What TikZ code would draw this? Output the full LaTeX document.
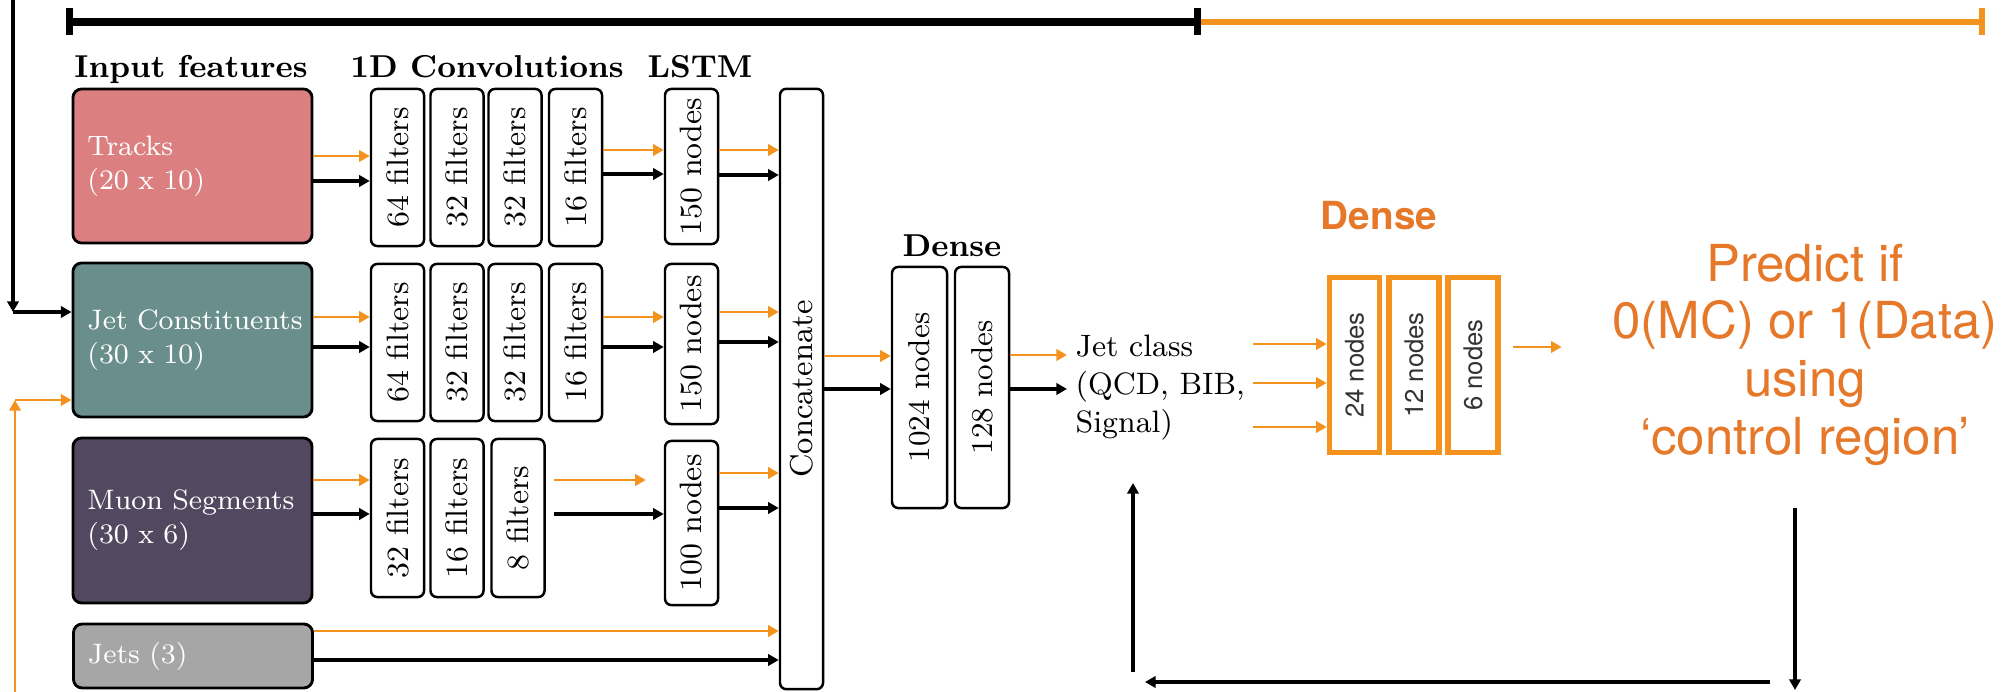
\documentclass[tikz,border=0pt]{standalone}
\usepackage{fontspec}
\usepackage{xcolor}
\usetikzlibrary{arrows.meta, positioning, calc}
\newfontfamily\helv{TeX Gyre Heros}
\definecolor{trkred}{RGB}{220,127,128}
\definecolor{jcteal}{RGB}{105,142,140}
\definecolor{mupurple}{RGB}{82,73,96}
\definecolor{jetgrey}{RGB}{166,166,166}
\definecolor{advorange}{RGB}{244,146,30}
\definecolor{advtext}{RGB}{230,120,42}

\tikzset{
  feat/.style={draw=black, line width=0.8pt, rounded corners=2.5pt, text=white, align=left,
    text width=2.1cm, inner xsep=0.145cm, inner ysep=0pt, font=\fontsize{8}{9.7}\selectfont},
  layer/.style={draw=black, line width=0.7pt, rounded corners=1.8pt, inner sep=0pt,
    minimum width=0.53cm, font=\fontsize{8.8}{10}\selectfont},
  advlayer/.style={draw=advorange, line width=1.6pt, inner sep=0pt, minimum width=0.5cm,
    minimum height=1.75cm, text=black!80, font=\helv\fontsize{7.3}{9}\selectfont},
  head/.style={anchor=base, font=\bfseries\fontsize{9}{11}\selectfont},
  karr/.style={line width=1pt, -{Triangle[length=3pt,width=3.2pt]}},
  oarr/.style={advorange, line width=0.8pt, -{Triangle[length=3pt,width=3.2pt]}},
}

\begin{document}
\begin{tikzpicture}[x=0.01cm, y=-0.01cm]
        \useasboundingbox (0,0) rectangle (2013,692);

        % Bar on top
        \coordinate (barL) at (66,22);
        \coordinate (barM) at (1201,22);
        \coordinate (barR) at (1985,22);
        \draw[advorange, line width=1.8pt, -{Bar[width=2.7mm]}] (barM) -- (barR);
        \draw[line width=2pt, {Bar[width=2.7mm]}-{Bar[width=2.7mm]}] (barL) -- (barM);

        % Headings
        \node[head] (hin) at (191,78) {Input features};
        \node[head] (hconv) at (487,78) {1D Convolutions};
        \node[head] (hlstm) at (700,78) {LSTM};
        \node[head] (hdense) at (952,257) {Dense};
        \node[anchor=base, text=advtext, font=\helv\bfseries\fontsize{11}{13}\selectfont] (hadv) at (1379,230) {Dense};

        % Input features
        \node[feat, fill=trkred, minimum height=1.54cm] (trk) at (192.5,166) {Tracks\\(20 x 10)};
        \node[feat, fill=jcteal, minimum height=1.54cm] (jc) at (192.5,340) {\mbox{Jet Constituents}\\(30 x 10)};
        \node[feat, fill=mupurple, minimum height=1.65cm] (mu) at (192.5,520.5) {\mbox{Muon Segments}\\(30 x 6)};
        \node[feat, fill=jetgrey, minimum height=0.64cm] (jets) at (193,656) {Jets (3)};

        % 1D convolutions
        \node[layer, minimum height=1.57cm] (c11) at (397.5,167.5) {\rotatebox{90}{64 filters}};
        \node[layer, minimum height=1.57cm] (c12) at (457,167.5) {\rotatebox{90}{32 filters}};
        \node[layer, minimum height=1.57cm] (c13) at (515,167.5) {\rotatebox{90}{32 filters}};
        \node[layer, minimum height=1.57cm] (c14) at (575.5,167.5) {\rotatebox{90}{16 filters}};
        \node[layer, minimum height=1.57cm] (c21) at (397.5,342.5) {\rotatebox{90}{64 filters}};
        \node[layer, minimum height=1.57cm] (c22) at (457,342.5) {\rotatebox{90}{32 filters}};
        \node[layer, minimum height=1.57cm] (c23) at (515,342.5) {\rotatebox{90}{32 filters}};
        \node[layer, minimum height=1.57cm] (c24) at (575.5,342.5) {\rotatebox{90}{16 filters}};
        \node[layer, minimum height=1.58cm] (c31) at (397.5,518) {\rotatebox{90}{32 filters}};
        \node[layer, minimum height=1.58cm] (c32) at (457,518) {\rotatebox{90}{16 filters}};
        \node[layer, minimum height=1.58cm] (c33) at (518,518) {\rotatebox{90}{8 filters}};

        % LSTM
        \node[layer, minimum height=1.55cm] (l1) at (691.5,166.5) {\rotatebox{90}{150 nodes}};
        \node[layer, minimum height=1.60cm] (l2) at (691.5,344) {\rotatebox{90}{150 nodes}};
        \node[layer, minimum height=1.64cm] (l3) at (691.5,523) {\rotatebox{90}{100 nodes}};

        % Concatenate and dense
        \node[layer, minimum width=0.43cm, minimum height=6cm, font=\fontsize{9}{11}\selectfont] (cat) at (801.5,389) {\rotatebox{90}{Concatenate}};
        \node[layer, minimum width=0.55cm, minimum height=2.41cm, font=\fontsize{8.6}{10}\selectfont] (dn1) at (919.5,387.5) {\rotatebox{90}{1024 nodes}};
        \node[layer, minimum width=0.54cm, minimum height=2.41cm, font=\fontsize{8.6}{10}\selectfont] (dn2) at (982,387.5) {\rotatebox{90}{128 nodes}};
        \node[anchor=west, align=left, inner sep=0pt, font=\fontsize{8.8}{10.8}\selectfont] (jcls) at (1075,388) {Jet class\\(QCD, BIB,\\Signal)};

        % Adversary
        \node[advlayer] (a1) at (1354.5,365) {\rotatebox{90}{24 nodes}};
        \node[advlayer] (a2) at (1414,365) {\rotatebox{90}{12 nodes}};
        \node[advlayer] (a3) at (1473,365) {\rotatebox{90}{6 nodes}};
        \node[anchor=north, align=center, inner sep=0pt, text=advtext, font=\helv\fontsize{14.5}{16.4}\selectfont] (pred) at (1805,243) {Predict if\\0(MC) or 1(Data)\\using\\‘control region’};

        % Arrows, Tracks
        \draw[oarr] (trk.east |- 0,156) -- (c11.west |- 0,156);
        \draw[karr] (trk.east |- 0,181) -- (c11.west |- 0,181);
        \draw[oarr] (c14.east |- 0,150) -- (l1.west |- 0,150);
        \draw[karr] (c14.east |- 0,174) -- (l1.west |- 0,174);
        \draw[oarr] (l1.east |- 0,150) -- (cat.west |- 0,150);
        \draw[karr] (l1.east |- 0,175) -- (cat.west |- 0,175);
        % Arrows, Jet Constituents
        \draw[oarr] (jc.east |- 0,317) -- (c21.west |- 0,317);
        \draw[karr] (jc.east |- 0,347) -- (c21.west |- 0,347);
        \draw[oarr] (c24.east |- 0,317) -- (l2.west |- 0,317);
        \draw[karr] (c24.east |- 0,347) -- (l2.west |- 0,347);
        \draw[oarr] (l2.east |- 0,312) -- (cat.west |- 0,312);
        \draw[karr] (l2.east |- 0,342) -- (cat.west |- 0,342);
        % Arrows, Muon Segments
        \draw[oarr] (mu.east |- 0,480) -- (c31.west |- 0,480);
        \draw[karr] (mu.east |- 0,514) -- (c31.west |- 0,514);
        \draw[oarr, shorten <=0.8mm, shorten >=1.8mm] (c33.east |- 0,480) -- (l3.west |- 0,480);
        \draw[karr, shorten <=0.8mm] (c33.east |- 0,514) -- (l3.west |- 0,514);
        \draw[oarr] (l3.east |- 0,473) -- (cat.west |- 0,473);
        \draw[karr] (l3.east |- 0,508) -- (cat.west |- 0,508);
        % Arrows, Jets
        \draw[oarr] (jets.east |- 0,631) -- (cat.west |- 0,631);
        \draw[karr] (jets.east |- 0,660) -- (cat.west |- 0,660);
        % Arrows, dense part
        \draw[oarr] (cat.east |- 0,356) -- (dn1.west |- 0,356);
        \draw[karr] (cat.east |- 0,389) -- (dn1.west |- 0,389);
        \draw[oarr, shorten >=0.8mm] (dn2.east |- 0,355) -- (jcls.west |- 0,355);
        \draw[karr, shorten >=0.8mm] (dn2.east |- 0,389) -- (jcls.west |- 0,389);

        % Arrows, adversary
        \coordinate (advin) at (1253,383);
        \draw[oarr] (advin |- 0,344) -- (a1.west |- 0,344);
        \draw[oarr] (advin) -- (advin -| a1.west);
        \draw[oarr] (advin |- 0,427) -- (a1.west |- 0,427);
        \draw[oarr, shorten <=1.2mm, shorten >=5mm] (a3.east |- 0,347) -- (pred.west |- 0,347);

        % Feedback
        \coordinate (fbin) at (13,312);
        \draw[karr] (fbin |- 0,0) -- (fbin);
        \draw[karr] (fbin) -- (fbin -| jc.west);
        \coordinate (ofin) at (15,400);
        \draw[oarr] (ofin |- 0,692) -- (ofin);
        \draw[oarr] (ofin) -- (ofin -| jc.west);
        \coordinate (fbtop) at (1795,508);
        \coordinate (fbbot) at (1795,690);
        \coordinate (fbr) at (1770,682);
        \coordinate (fbl) at (1145,682);
        \coordinate (fbup) at (1133,672);
        \coordinate (fbend) at (1133,483);
        \draw[karr] (fbtop) -- (fbbot);
        \draw[karr] (fbr) -- (fbl);
        \draw[karr] (fbup) -- (fbend);
\end{tikzpicture}
\end{document}
